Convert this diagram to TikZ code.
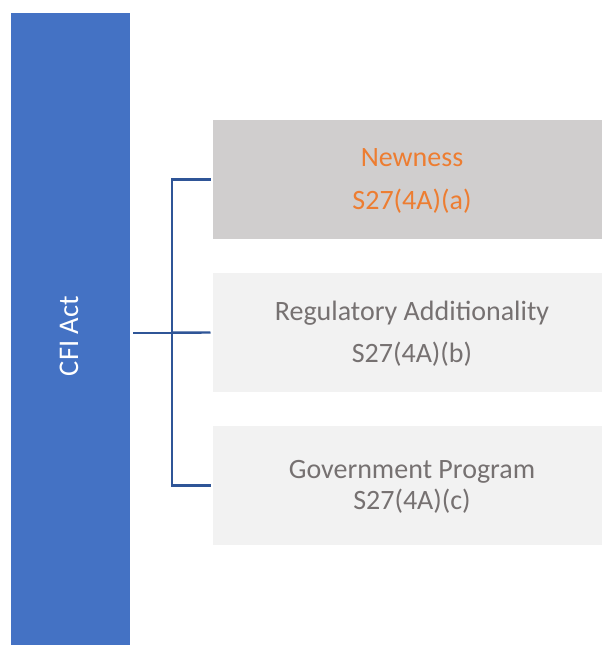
\documentclass[tikz,border=0pt]{standalone}
\usepackage{fontspec}
\setmainfont{Carlito}
\definecolor{actblue}{HTML}{4472C4}
\definecolor{linkblue}{HTML}{2F5597}
\definecolor{activegray}{HTML}{D0CECE}
\definecolor{idlegray}{HTML}{F2F2F2}
\definecolor{accent}{HTML}{ED7D31}
\definecolor{mutedtext}{HTML}{767171}
\begin{document}
\begin{tikzpicture}[x=1bp,y=-1bp,
  panel/.style={fill=#1, draw=none, inner sep=0pt, outer sep=0pt},
  caption/.style={anchor=base, inner sep=0pt, text=#1,
    font=\fontsize{28bp}{33bp}\selectfont},
  link/.style={draw=linkblue, line width=2.4bp}]
  \useasboundingbox (0,0) rectangle (602,646);
  \fill[white] (0,0) rectangle (602,646);

  % act bar
  \node[panel=actblue, minimum width=119bp, minimum height=632bp] (act) at (70.5,329) {};
  \node[rotate=90, anchor=base, inner sep=0pt, text=white,
    font=\fontsize{28.5bp}{33bp}\selectfont] (actlabel) at (78,336) {CFI Act};

  % section panels
  \node[panel=activegray, minimum width=389bp, minimum height=119bp] (newness) at (407.5,179.5) {};
  \node[panel=idlegray, minimum width=389bp, minimum height=119bp] (regulatory) at (407.5,332.5) {};
  \node[panel=idlegray, minimum width=389bp, minimum height=119bp] (government) at (407.5,485.5) {};

  \node[caption=accent] (t1a) at (412,166.7) {Newness};
  \node[caption=accent] (t1b) at (412,209.3) {S27(4A)(a)};
  \node[caption=mutedtext] (t2a) at (412,320.7) {Regulatory Additionality};
  \node[caption=mutedtext] (t2b) at (412,362.7) {S27(4A)(b)};
  \node[caption=mutedtext] (t3a) at (412,478.3) {Government Program};
  \node[caption=mutedtext] (t3b) at (412,509) {S27(4A)(c)};

  % bracket connector
  \coordinate (hub) at (171.7,332.7);
  \coordinate (stem) at (133,332.7);
  \draw[link] (stem) -- (hub);
  \draw[link] ([xshift=-2.5bp]newness.west) -| (hub) |- ([xshift=-2.5bp]government.west);
  \draw[link] (hub) -- ([xshift=-2.5bp]regulatory.west);
\end{tikzpicture}
\end{document}
